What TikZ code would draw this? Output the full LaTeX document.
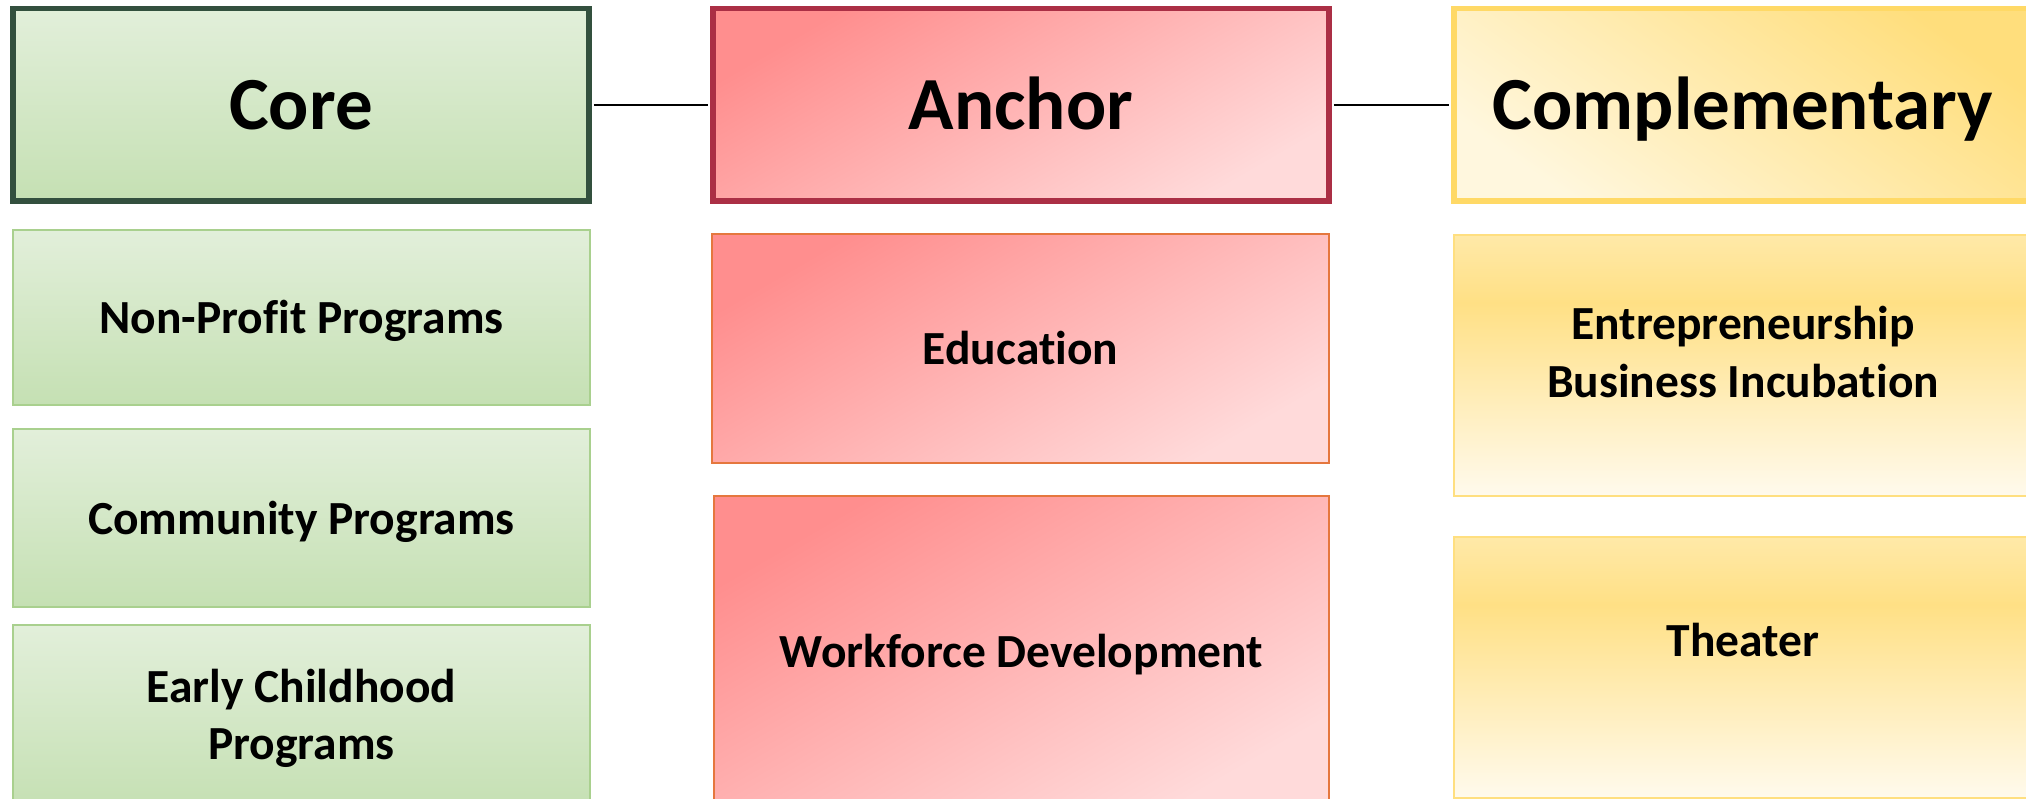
\documentclass[tikz,border=0pt]{standalone}
\usepackage{fontspec}
\setmainfont{Carlito}[Ligatures=NoCommon]
\definecolor{grT}{HTML}{E2EFDA}
\definecolor{grB}{HTML}{C5E0B3}
\definecolor{grHead}{HTML}{33503E}
\definecolor{grSub}{HTML}{A9D08E}
\definecolor{rdA}{HTML}{FF8E8E}
\definecolor{rdB}{HTML}{FFDADA}
\definecolor{rdHead}{HTML}{AB2F45}
\definecolor{rdSub}{HTML}{E5773E}
\definecolor{ylA}{HTML}{FFDE7C}
\definecolor{ylB}{HTML}{FFF7DE}
\definecolor{ylHead}{HTML}{FFD966}
\definecolor{ylSubT}{HTML}{FFE9A8}
\definecolor{ylSubM}{HTML}{FFE085}
\definecolor{ylSubB}{HTML}{FFFAED}
\definecolor{ylSub}{HTML}{FFDF80}
\pgfdeclareverticalshading{ylsubshade}{100bp}{color(0bp)=(ylSubB); color(25bp)=(ylSubB); color(62bp)=(ylSubM); color(75bp)=(ylSubT); color(100bp)=(ylSubT)}
\tikzset{
  box/.style={rectangle, inner sep=0pt},
  head/.style={box, line width=5.5pt, minimum height=192.5pt},
  greenfill/.style={top color=grT, bottom color=grB},
  redfill/.style={top color=rdA, bottom color=rdB, shading angle=30},
  yellowhead/.style={top color=ylA, bottom color=ylB, shading angle=-35},
  yellowsub/.style={shading=ylsubshade},
  sub/.style={box, line width=1.5pt},
  headtxt/.style={inner sep=0pt, anchor=base, font=\bfseries\fontsize{75}{90}\selectfont},
  subtxt/.style={inner sep=0pt, anchor=base, align=center, font=\bfseries\fontsize{47.5}{57}\selectfont},
  link/.style={line width=2pt, black, shorten <=2pt, shorten >=2pt}
}
\begin{document}
\begin{tikzpicture}[x=1pt,y=-1pt]
\useasboundingbox (0,0) rectangle (2026,799);
% headers
\node[head, greenfill, draw=grHead, minimum width=576pt] (core) at (301,105) {};
\node[head, redfill, draw=rdHead, minimum width=616pt] (anchor) at (1021,105) {};
\node[head, yellowhead, draw=ylHead, minimum width=578pt] (compl) at (1743,105) {};
\node[headtxt] (coreT) at (301,130) {Core};
\node[headtxt] (anchorT) at (1021,130) {Anchor};
\node[headtxt] (complT) at (1743,130) {Complementary};
\draw[link] (core.east) -- (anchor.west);
\draw[link] (anchor.east) -- (compl.west);
% core column
\node[sub, greenfill, draw=grSub, minimum width=577pt, minimum height=175pt] (np) at (301.5,317.5) {};
\node[sub, greenfill, draw=grSub, minimum width=577pt, minimum height=178pt] (cp) at (301.5,518) {};
\node[sub, greenfill, draw=grSub, minimum width=577pt, minimum height=184pt] (ec) at (301.5,717) {};
\node[subtxt] (npT) at (301.5,334) {Non-Profit Programs};
\node[subtxt] (cpT) at (301.5,534) {Community Programs};
\node[subtxt] (ecT) at (301.5,702) {Early Childhood};
\node[subtxt] (ecT2) at (301.5,759) {Programs};
% anchor column
\node[sub, redfill, draw=rdSub, minimum width=617pt, minimum height=229pt] (ed) at (1020.5,348.5) {};
\node[sub, redfill, draw=rdSub, minimum width=615pt, minimum height=312pt] (wf) at (1021.5,652) {};
\node[subtxt] (edT) at (1020.5,365) {Education};
\node[subtxt] (wfT) at (1021.5,667) {Workforce Development};
% complementary column
\node[sub, yellowsub, draw=ylSub, minimum width=578pt, minimum height=261pt] (en) at (1743,365.5) {};
\node[sub, yellowsub, draw=ylSub, minimum width=578pt, minimum height=261pt] (th) at (1743,667.5) {};
\node[subtxt] (enT) at (1743,340) {Entrepreneurship};
\node[subtxt] (enT2) at (1743,397) {Business Incubation};
\node[subtxt] (thT) at (1743,656) {Theater};
\end{tikzpicture}
\end{document}
